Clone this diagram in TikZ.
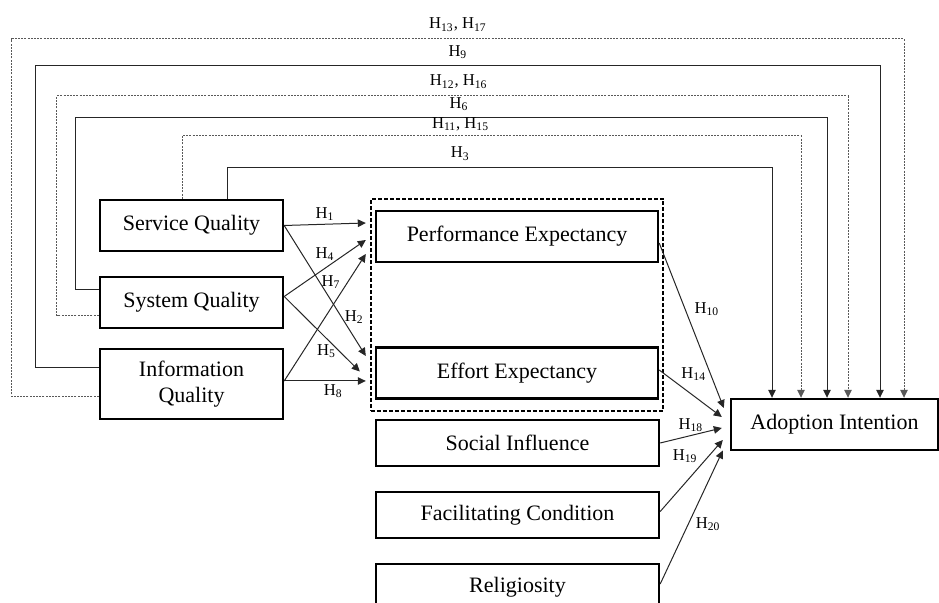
\documentclass[tikz,border=0pt]{standalone}
\usepackage{fontspec}
\setmainfont{Liberation Serif}
\usetikzlibrary{arrows.meta,fit}
\tikzset{node distance=36pt, auto,
  construct/.style={draw, line width=1.2pt, minimum width=91.5pt, minimum height=25.5pt, align=center, inner sep=2pt, font=\fontsize{11}{13}\selectfont},
  hyp/.style={inner sep=1.5pt, font=\fontsize{8.3}{9}\selectfont},
  link/.style={draw=black!85, line width=0.5pt},
  dlink/.style={draw=black!65, line width=0.5pt, dash pattern=on 1pt off 0.6pt}}

\begin{document}
\begin{tikzpicture}[x=0.5pt, y=-0.5pt, >={Triangle[length=4pt,width=3.8pt]}]
  \useasboundingbox (0,0) rectangle (939,603);
  \clip (0,0) rectangle (939,603);

  \node[construct] (SQ) at (191.5,225.5) {Service Quality};
  \node[construct] (SyQ) [below of=SQ, node distance=38.5pt] {System Quality};
  \node[construct, minimum height=35pt] (IQ) at (191.5,384) {Information\\Quality};

  \node[construct, minimum width=141pt] (PE) at (517,236.5) {Performance Expectancy};
  \node[construct, minimum width=141pt] (EE) at (517,373) {Effort Expectancy};
  \node[draw, line width=1pt, dash pattern=on 2pt off 1pt, inner xsep=2pt, inner ysep=5.5pt, fit=(PE)(EE)] (G) {};

  \node[construct, minimum width=141.5pt, minimum height=23pt] (SI) at (517.5,443) {Social Influence};
  \node[construct, minimum width=141.5pt, minimum height=23pt] (FC) [below of=SI] {Facilitating Condition};
  \node[construct, minimum width=141.5pt, minimum height=23pt] (R) [below of=FC] {Religiosity};

  \node[construct, minimum width=103.5pt] (AI) at (834.5,424.5) {Adoption Intention};

  \draw[->, link] (SQ.east) to node[hyp, above] {H\textsubscript{1}} ([xshift=-4.5pt, yshift=6.75pt]PE.west);
  \draw[->, link] (SQ.east) to node[hyp, pos=0.7, right] {H\textsubscript{2}} ([xshift=-4.5pt, yshift=8.5pt]EE.west);
  \draw[->, link] ([yshift=3pt]SyQ.east) to node[hyp, above=2pt] {H\textsubscript{4}} ([xshift=-4.5pt, yshift=-1.75pt]PE.west);
  \draw[->, link] ([yshift=3pt]SyQ.east) to node[hyp, pos=0.73, left] {H\textsubscript{5}} ([xshift=-7.5pt, yshift=0.75pt]EE.west);
  \draw[->, link] ([yshift=1.5pt]IQ.east) to node[hyp, pos=0.78, left=2pt] {H\textsubscript{7}} ([xshift=-4.5pt, yshift=-8.75pt]PE.west);
  \draw[->, link] ([yshift=1.5pt]IQ.east) to node[hyp, pos=0.6, below] {H\textsubscript{8}} ([xshift=-4.5pt, yshift=-4pt]EE.west);

  \draw[->, link] ([yshift=-3.25pt]PE.east) to node[hyp, pos=0.4, right=3pt] {H\textsubscript{10}} ([xshift=-3pt, yshift=8.25pt]AI.west);
  \draw[->, link] ([yshift=1.5pt]EE.east) to node[hyp, pos=0.3, above right] {H\textsubscript{14}} ([xshift=-4pt, yshift=3.75pt]AI.west);
  \draw[->, link] (SI.east) to node[hyp, above] {H\textsubscript{18}} ([xshift=-4pt, yshift=-1.75pt]AI.west);
  \draw[->, link] ([yshift=1.75pt]FC.east) to node[hyp, pos=0.78, left=4pt] {H\textsubscript{19}} ([xshift=-3.5pt, yshift=-7.75pt]AI.west);
  \draw[->, link] ([yshift=1.5pt]R.east) to node[hyp, pos=0.45, right=2pt] {H\textsubscript{20}} ([xshift=-3.5pt, yshift=-13pt]AI.west);

  \draw[->, dlink] ([yshift=-6.5pt]IQ.west) -- ++(-87,0) -- ++(0,-358) -| node[hyp, pos=0.25, above=2pt] {H\textsubscript{13}, H\textsubscript{17}} ([xshift=34.75pt]AI.north);
  \draw[->, link] ([yshift=8pt]IQ.west) -- ++(-63,0) -- ++(0,-302) -| node[hyp, pos=0.25, above=2pt] {H\textsubscript{9}} ([xshift=22.75pt]AI.north);
  \draw[->, dlink] ([yshift=-6.75pt]SyQ.west) -- ++(-42,0) -- ++(0,-220) -| node[hyp, pos=0.254, above=2pt] {H\textsubscript{12}, H\textsubscript{16}} ([xshift=6.75pt]AI.north);
  \draw[->, link] ([yshift=6.25pt]SyQ.west) -- ++(-23,0) -- ++(0,-172) -| node[hyp, pos=0.255, above=2pt] {H\textsubscript{6}} ([xshift=-3.75pt]AI.north);
  \draw[->, dlink] ([xshift=-4.75pt]SQ.north) -- ++(0,-63) -| node[hyp, pos=0.225, above=0.5pt] {H\textsubscript{11}, H\textsubscript{15}} ([xshift=-16.75pt]AI.north);
  \draw[->, link] ([xshift=17.75pt]SQ.north) -- ++(0,-31) -| node[hyp, pos=0.214, above=2pt] {H\textsubscript{3}} ([xshift=-31.25pt]AI.north);

\end{tikzpicture}
\end{document}
